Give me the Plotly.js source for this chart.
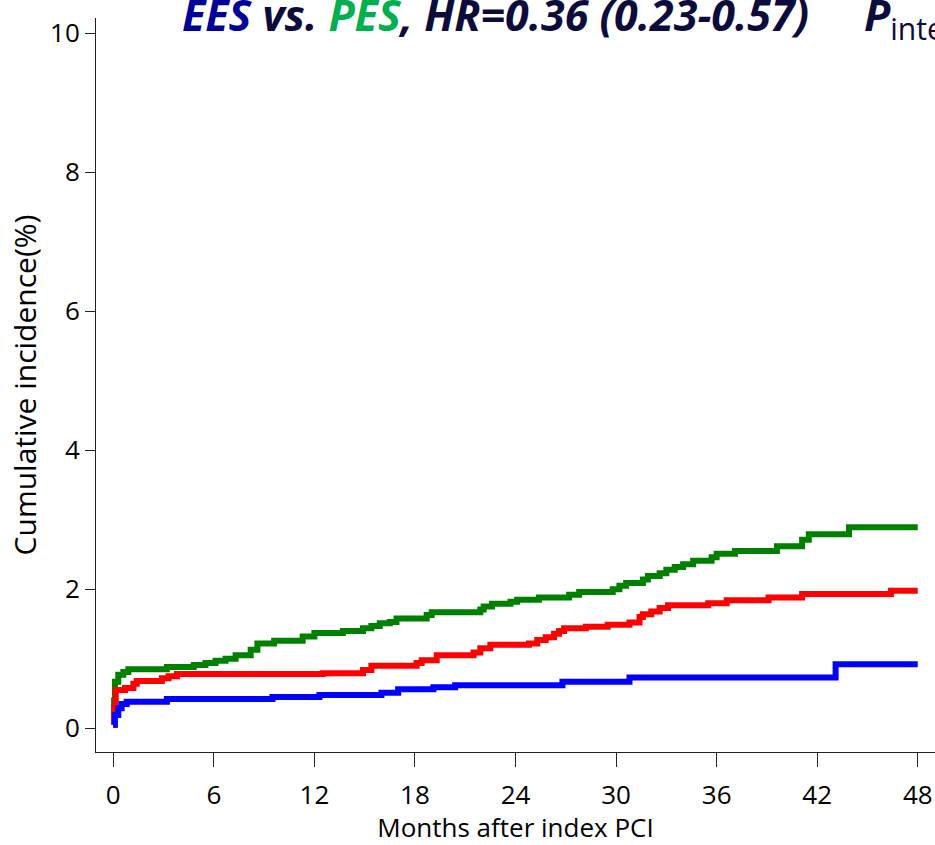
<!DOCTYPE html>
<html>
<head>
<meta charset="utf-8">
<script src="https://cdn.plot.ly/plotly-3.0.1.min.js"></script>
<style>
html,body{margin:0;padding:0;background:#fff;}
#chart{width:935px;height:845px;}
</style>
</head>
<body>
<div id="chart"></div>
<script>
// Months after index PCI (step change points) and cumulative incidence (%)
const greenMonths = [0,0.05,0.1,0.3,0.6,0.9,3.2,4.8,5.5,6.1,6.7,7.3,8.2,8.6,9.6,11.3,12.0,13.7,14.9,15.4,15.9,16.5,16.9,18.7,19.0,21.9,22.1,22.6,23.7,24.1,25.4,27.2,27.8,29.8,30.2,30.6,31.6,31.9,32.6,33.0,33.5,34.0,34.6,35.7,36.0,37.1,39.6,41.1,41.5,43.9,48];
const greenValues = [0.05,0.40,0.67,0.77,0.81,0.85,0.88,0.91,0.94,0.97,1.00,1.05,1.13,1.22,1.26,1.32,1.37,1.40,1.44,1.47,1.51,1.53,1.58,1.63,1.67,1.71,1.75,1.79,1.82,1.85,1.88,1.92,1.96,2.00,2.05,2.09,2.14,2.19,2.23,2.28,2.32,2.36,2.41,2.46,2.51,2.55,2.62,2.71,2.79,2.89,2.89];

const redMonths = [0,0.05,0.15,0.7,1.2,1.4,2.9,3.3,3.8,12.5,14.9,15.4,18.1,18.4,19.3,21.5,21.9,22.5,24.8,25.3,25.8,26.3,26.6,26.9,28.2,29.5,30.8,31.4,31.6,32.1,32.6,33.1,35.5,36.6,39.1,41.1,46.4,48];
const redValues = [0.05,0.30,0.55,0.58,0.64,0.68,0.72,0.75,0.78,0.79,0.84,0.90,0.94,0.98,1.05,1.09,1.15,1.20,1.22,1.27,1.31,1.36,1.40,1.44,1.46,1.49,1.52,1.60,1.64,1.68,1.73,1.77,1.80,1.84,1.88,1.93,1.98,1.98];

const blueMonths = [0,0.1,0.3,0.5,0.8,3.2,9.5,12.3,16.0,17.0,19.1,20.4,26.8,30.8,43.1,48];
const blueValues = [0.05,0.19,0.29,0.35,0.38,0.42,0.45,0.48,0.51,0.56,0.59,0.62,0.67,0.73,0.92,0.92];

const xTicks = [0,6,12,18,24,30,36,42,48];
const yTicks = [0,2,4,6,8,10];

const xTitle = "Months after index PCI";
const yTitle = "Cumulative incidence(%)";

const FONT = "Open Sans, sans-serif";

function stepTrace(x, y, color) {
  return {x: x, y: y, type: "scatter", mode: "lines",
    line: {shape: "hv", color: color, width: 6}, hoverinfo: "skip", showlegend: false};
}

const data = [
  stepTrace(greenMonths, greenValues, "#008000"),
  stepTrace(redMonths, redValues, "#ff0000"),
  stepTrace(blueMonths, blueValues, "#0000ff")
];

const layout = {
  width: 935, height: 845,
  margin: {l: 96, r: 0, t: 18, b: 93, pad: 0},
  paper_bgcolor: "#ffffff", plot_bgcolor: "#ffffff",
  showlegend: false,
  font: {family: FONT, color: "#000000", size: 26},
  xaxis: {
    range: [-1.03, 49.03], tickvals: xTicks, ticktext: xTicks.map(String),
    showgrid: false, zeroline: false, showline: true, linecolor: "#222222", linewidth: 1,
    ticks: "outside", ticklen: 14, tickwidth: 1, tickcolor: "#222222",
    ticklabelstandoff: 6,
    tickfont: {family: FONT, size: 26, color: "#000000"},
    title: {text: xTitle, font: {family: FONT, size: 26, color: "#000000"}, standoff: 9}
  },
  yaxis: {
    range: [-0.341, 10.216], tickvals: yTicks, ticktext: yTicks.map(String),
    showgrid: false, zeroline: false, showline: true, linecolor: "#222222", linewidth: 1,
    ticks: "outside", ticklen: 10, tickwidth: 1, tickcolor: "#222222",
    tickfont: {family: FONT, size: 26, color: "#000000"},
    title: {text: yTitle, font: {family: FONT, size: 30, color: "#000000"}, standoff: 4}
  },
  annotations: [
    {xref: "paper", yref: "paper", x: (180 - 96) / 839, y: 1 + 35 / 734, xanchor: "left", yanchor: "top",
     showarrow: false, align: "left",
     text: "<b><i><span style='color:#000099'>EES</span> vs. <span style='color:#00b050'>PES</span>, HR=0.36 (0.23-0.57)</i></b>",
     font: {family: FONT, size: 43, color: "#0c0c3c"}},
    {xref: "paper", yref: "paper", x: (862 - 96) / 839, y: 1 + 35 / 734, xanchor: "left", yanchor: "top",
     showarrow: false, align: "left",
     text: "<b><i>P</i></b><sub>inte</sub>",
     font: {family: FONT, size: 43, color: "#0c0c3c"}}
  ]
};

Plotly.newPlot("chart", data, layout, {staticPlot: true, displayModeBar: false});
</script>
</body>
</html>
